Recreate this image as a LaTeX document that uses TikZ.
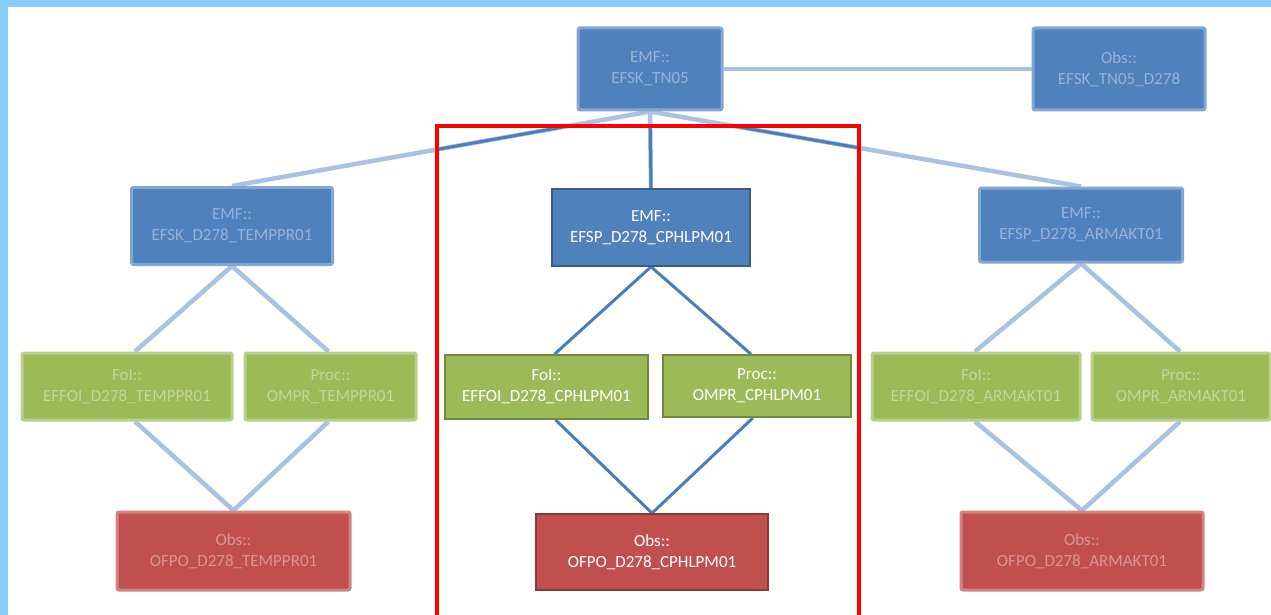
\documentclass[tikz,border=0pt]{standalone}
\usepackage{fontspec}
\setmainfont{Carlito}
\definecolor{bfill}{HTML}{4F81BD}
\definecolor{bdraw}{HTML}{385D8A}
\definecolor{gfill}{HTML}{9BBB59}
\definecolor{gdraw}{HTML}{71893F}
\definecolor{rfill}{HTML}{C0504D}
\definecolor{rdraw}{HTML}{8C3836}
\definecolor{lnk}{HTML}{4A7EBB}
\definecolor{lnkfade}{HTML}{A9C2E3}
\definecolor{edge}{HTML}{87CEFA}
\pgfdeclarelayer{bg}
\pgfdeclarelayer{fg}
\pgfsetlayers{bg,main,fg}
\tikzset{
  box/.style={rectangle, align=center, text=white, font=\fontsize{17}{21}\selectfont, inner sep=0pt},
  crisp/.style={box, draw, line width=1.6pt},
  faded/.style={box, line width=3pt, rounded corners=2pt, text opacity=0.4},
  bluebox/.style={crisp, fill=bfill, draw=bdraw},
  greenbox/.style={crisp, fill=gfill, draw=gdraw},
  redbox/.style={crisp, fill=rfill, draw=rdraw},
  fblue/.style={faded, fill=bfill, draw=bfill!70!white},
  fgreen/.style={faded, fill=gfill, draw=gfill!70!white},
  fred/.style={faded, fill=rfill, draw=rfill!70!white},
  link/.style={draw=lnk, line width=3pt},
  flink/.style={draw=lnkfade, line width=4.5pt},
}
\begin{document}
\begin{tikzpicture}[x=1pt,y=-1pt]
\useasboundingbox (0,0) rectangle (1271,615);

% faded (blurred) nodes
\node[fblue, minimum width=144pt, minimum height=82pt] (top) at (650,69) {EMF::\\EFSK\_TN05};
\node[fblue, minimum width=172pt, minimum height=82pt] (tobs) at (1119,69) {Obs::\\EFSK\_TN05\_D278};
\node[fblue, minimum width=201pt, minimum height=77pt] (lemf) at (232,226) {EMF::\\EFSK\_D278\_TEMPPR01};
\node[fblue, minimum width=203pt, minimum height=74pt] (remf) at (1081,225) {EMF::\\EFSP\_D278\_ARMAKT01};
\node[fgreen, minimum width=210pt, minimum height=67pt] (lfoi) at (127,386.5) {FoI::\\EFFOI\_D278\_TEMPPR01};
\node[fgreen, minimum width=171pt, minimum height=67pt] (lproc) at (330.5,386.5) {Proc::\\OMPR\_TEMPPR01};
\node[fgreen, minimum width=208pt, minimum height=67pt] (rfoi) at (976,386.5) {FoI::\\EFFOI\_D278\_ARMAKT01};
\node[fgreen, minimum width=178pt, minimum height=67pt] (rproc) at (1181,386.5) {Proc::\\OMPR\_ARMAKT01};
\node[fred, minimum width=233pt, minimum height=78pt] (lobs) at (233.5,551) {Obs::\\OFPO\_D278\_TEMPPR01};
\node[fred, minimum width=242pt, minimum height=78pt] (robs) at (1082,551) {Obs::\\OFPO\_D278\_ARMAKT01};

% crisp center nodes
\node[bluebox, minimum width=198pt, minimum height=77pt] (cemf) at (651,227.5) {EMF::\\EFSP\_D278\_CPHLPM01};
\node[greenbox, minimum width=203pt, minimum height=64pt] (cfoi) at (546.5,387) {FoI::\\EFFOI\_D278\_CPHLPM01};
\node[greenbox, minimum width=188pt, minimum height=62pt] (cproc) at (757,386) {Proc::\\OMPR\_CPHLPM01};
\node[redbox, minimum width=232pt, minimum height=76pt] (cobs) at (652,552) {Obs::\\OFPO\_D278\_CPHLPM01};

\begin{pgfonlayer}{bg}
\fill[white] (0,0) rectangle (1271,615);
\fill[edge] (0,0) rectangle (1271,7);
\fill[edge] (0,0) rectangle (8,615);
% faded connectors
\path[flink] (top.east) -- (tobs.west);
\path[flink] (top.south) -- (lemf.north);
\path[flink] (top.south) -- (cemf.north);
\path[flink] (top.south) -- (remf.north);
\path[flink] (lemf.south) -- ([xshift=8]lfoi.north);
\path[flink] (lemf.south) -- ([xshift=-2]lproc.north);
\path[flink] ([xshift=8]lfoi.south) -- (lobs.north);
\path[flink] ([xshift=-2]lproc.south) -- (lobs.north);
\path[flink] (remf.south) -- ([xshift=-1]rfoi.north);
\path[flink] (remf.south) -- ([xshift=-1]rproc.north);
\path[flink] ([xshift=-1]rfoi.south) -- (robs.north);
\path[flink] ([xshift=-1]rproc.south) -- (robs.north);
% crisp part of connectors inside the red frame
\begin{scope}
\clip (439,128) rectangle (857,615);
\path[link] (top.south) -- (lemf.north);
\path[link] (top.south) -- (cemf.north);
\path[link] (top.south) -- (remf.north);
\end{scope}
\path[link] (cemf.south) -- ([xshift=8]cfoi.north);
\path[link] (cemf.south) -- ([xshift=-6]cproc.north);
\path[link] ([xshift=9]cfoi.south) -- (cobs.north);
\path[link] ([xshift=-4]cproc.south) -- (cobs.north);
\end{pgfonlayer}

% red frame
\begin{pgfonlayer}{fg}
\draw[red, line width=4pt] (437,620) -- (437,126) -- (859,126) -- (859,620);
\end{pgfonlayer}
\end{tikzpicture}
\end{document}
